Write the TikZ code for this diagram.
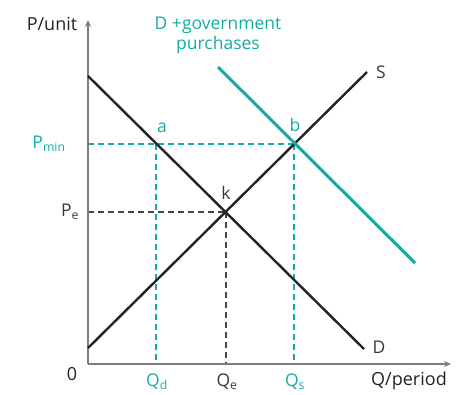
\documentclass[tikz,border=0pt]{standalone}
\usepackage{fontspec}
\setmainfont{Open Sans}
\usetikzlibrary{arrows.meta}
\definecolor{teal1}{RGB}{20,170,165}
\definecolor{axisgray}{RGB}{125,125,125}
\definecolor{curve}{RGB}{35,35,35}
\begin{document}
\begin{tikzpicture}[x=1pt,y=-1pt,
  axis/.style={draw=axisgray,line width=1.8pt,-{Stealth[length=7pt,width=6pt]}},
  curveline/.style={draw=curve,line width=2.4pt},
  govline/.style={draw=teal1,line width=3pt},
  tealdash/.style={draw=teal1,line width=1.5pt,dash pattern=on 6pt off 4pt},
  graydash/.style={draw=curve!85,line width=1.5pt,dash pattern=on 6pt off 4pt},
  axlabel/.style={font=\fontsize{18}{20}\selectfont,text=curve},
  lab/.style={font=\fontsize{17.5}{20}\selectfont,text=curve!90},
  tlab/.style={font=\fontsize{17.5}{20}\selectfont,text=teal1},
  inner sep=0pt]
\useasboundingbox (0,0) rectangle (463,394);
% coordinates
\coordinate (O) at (88,364);
\coordinate (ytop) at (88,20);
\coordinate (xend) at (451,364);
\coordinate (D1) at (88,76);
\coordinate (D2) at (364,349);
\coordinate (S1) at (88,348);
\coordinate (S2) at (367,72);
\coordinate (G1) at (218,67);
\coordinate (G2) at (415,263);
\coordinate (a) at (156,144);
\coordinate (b) at (294,144);
\coordinate (k) at (226,212);
\coordinate (pmin) at (88,144);
\coordinate (pe) at (88,212);
\coordinate (qd) at (156,364);
\coordinate (qe) at (226,364);
\coordinate (qs) at (294,364);
% dashed guides
\draw[tealdash] (pmin) -- (b);
\draw[tealdash] (a) -- (qd);
\draw[tealdash] (b) -- (qs);
\draw[graydash] (pe) -- (k);
\draw[graydash] (k) -- (qe);
% axes
\draw[axis] (O) -- (ytop);
\draw[axis] (O) -- (xend);
% curves
\draw[curveline] (D1) -- (D2);
\draw[curveline] (S1) -- (S2);
\draw[govline] (G1) -- (G2);
% labels
\node[axlabel] (ylab) at (52,24) {P/unit};
\node[axlabel] (xlab) at (409,381) {Q/period};
\node[axlabel] (zero) at (72,374) {0};
\node[lab] (Slab) at (381,72) {S};
\node[lab] (Dlab) at (379,347) {D};
\node[tlab,align=center] (govlab) at (218,35) {D +government\\purchases};
\node[tlab] (alab) at (162,128) {a};
\node[tlab] (blab) at (295,125) {b};
\node[lab] (klab) at (226,193) {k};
\node[tlab] (pminlab) at (49,144) {P\textsubscript{min}};
\node[lab] (pelab) at (70,212) {P\textsubscript{e}};
\node[tlab] (qdlab) at (157,382) {Q\textsubscript{d}};
\node[lab] (qelab) at (227,382) {Q\textsubscript{e}};
\node[tlab] (qslab) at (295,382) {Q\textsubscript{s}};
\end{tikzpicture}
\end{document}
